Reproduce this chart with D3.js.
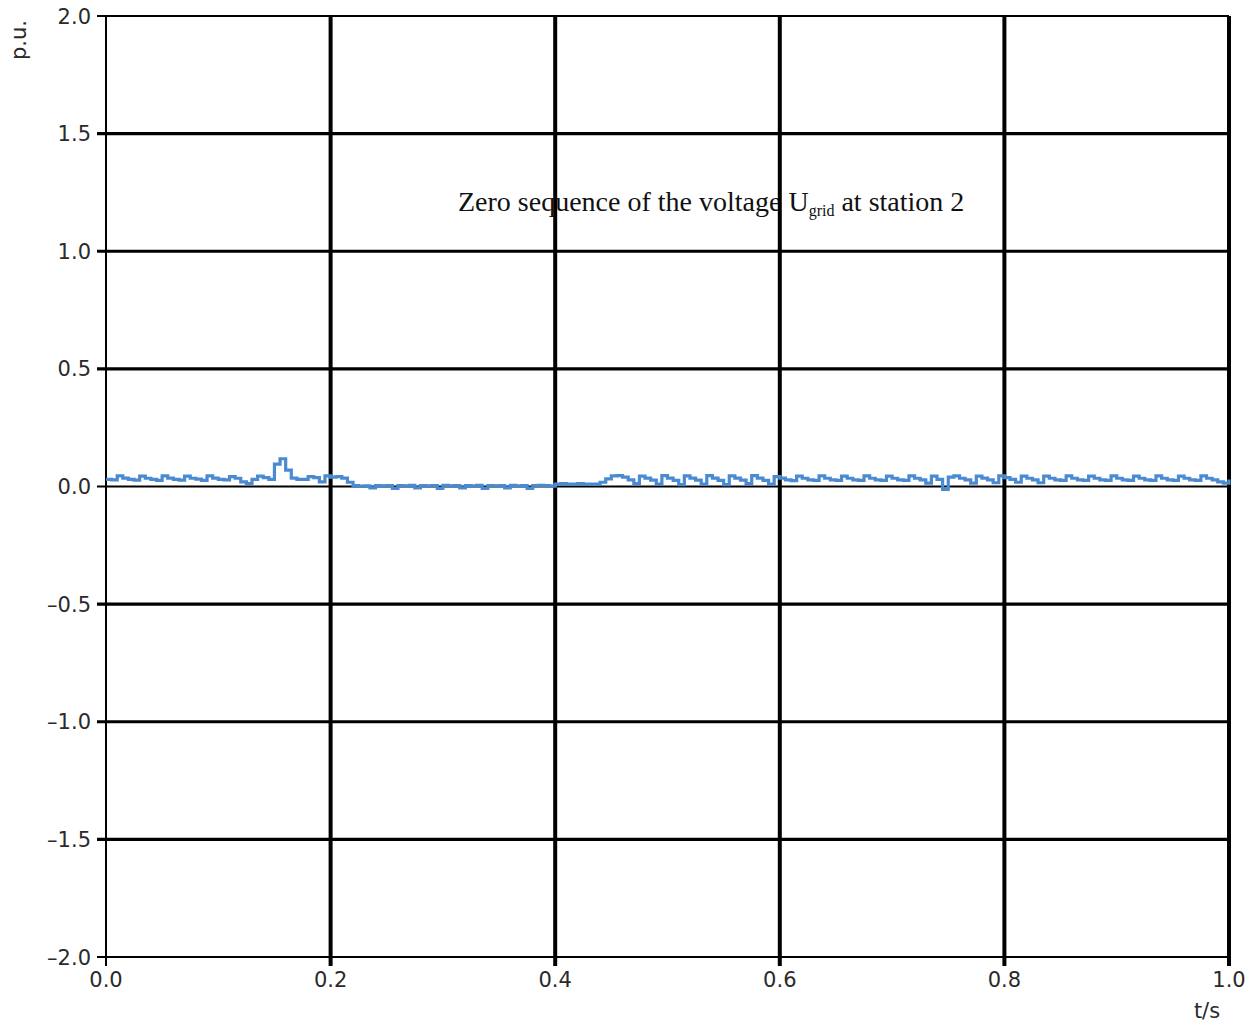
<!DOCTYPE html>
<html><head><meta charset="utf-8">
<script src="https://cdn.jsdelivr.net/npm/d3@7"></script>
<style>body{margin:0;background:#fff}svg{display:block}</style>
</head><body>
<script>
const xTicks = [0.0, 0.2, 0.4, 0.6, 0.8, 1.0];
const yTicks = [2.0, 1.5, 1.0, 0.5, 0.0, -0.5, -1.0, -1.5, -2.0];
const sampleStep = 0.005;
const u0 = [
 0.030, 0.028, 0.045, 0.036,
 0.030, 0.027, 0.044, 0.035,
 0.030, 0.026, 0.045, 0.036,
 0.030, 0.027, 0.044, 0.035,
 0.031, 0.026, 0.045, 0.036,
 0.030, 0.028, 0.042, 0.035,
 0.020, 0.012, 0.030, 0.044,
 0.038, 0.030, 0.095, 0.118,
 0.070, 0.036, 0.030, 0.030,
 0.042, 0.038, 0.020, 0.045,
 0.040, 0.042, 0.036, 0.018,
 0.004, 0.002, 0.003, -0.006,
 0.004, 0.003, 0.004, -0.008,
 0.004, 0.003, 0.005, -0.006,
 0.004, 0.003, 0.004, -0.008,
 0.005, 0.003, 0.004, -0.006,
 0.004, 0.003, 0.005, -0.008,
 0.004, 0.003, 0.004, -0.006,
 0.005, 0.003, 0.004, -0.008,
 0.004, 0.005, 0.004, 0.002,
 0.010, 0.012, 0.010, 0.010,
 0.012, 0.010, 0.010, 0.010,
 0.018, 0.032, 0.045, 0.046,
 0.040, 0.028, 0.012, 0.044,
 0.036, 0.027, 0.010, 0.046,
 0.036, 0.026, 0.008, 0.045,
 0.036, 0.027, 0.010, 0.046,
 0.036, 0.026, 0.008, 0.045,
 0.036, 0.027, 0.012, 0.046,
 0.036, 0.026, 0.010, 0.042,
 0.036, 0.028, 0.025, 0.044,
 0.035, 0.028, 0.026, 0.045,
 0.035, 0.028, 0.026, 0.044,
 0.035, 0.028, 0.026, 0.045,
 0.035, 0.028, 0.026, 0.044,
 0.035, 0.028, 0.026, 0.045,
 0.035, 0.028, 0.014, 0.044,
 0.030, -0.012, 0.040, 0.045,
 0.035, 0.028, 0.014, 0.044,
 0.036, 0.028, 0.016, 0.045,
 0.038, 0.030, 0.018, 0.044,
 0.035, 0.028, 0.016, 0.044,
 0.035, 0.028, 0.026, 0.045,
 0.035, 0.028, 0.026, 0.044,
 0.035, 0.028, 0.026, 0.045,
 0.035, 0.028, 0.026, 0.044,
 0.035, 0.028, 0.026, 0.045,
 0.035, 0.028, 0.026, 0.044,
 0.035, 0.028, 0.026, 0.045,
 0.035, 0.028, 0.020, 0.014,
 0.030
];
const time = u0.map((_, i) => +(i * sampleStep).toFixed(4));

const W = 1255, H = 1024;
const m = {left: 106, right: 1229, top: 16, bottom: 957};
const x = d3.scaleLinear().domain([0, 1]).range([m.left, m.right]);
const y = d3.scaleLinear().domain([-2, 2]).range([m.bottom, m.top]);

const svg = d3.select("body").append("svg").attr("width", W).attr("height", H);
const sans = "'DejaVu Sans', Verdana, sans-serif";

// title (drawn under the grid)
const title = svg.append("text").attr("x", 458).attr("y", 211)
  .attr("font-family", "'Liberation Serif', 'Times New Roman', serif")
  .attr("font-size", 28).attr("fill", "#111");
title.append("tspan").text("Zero sequence of the voltage U");
title.append("tspan").attr("font-size", 16).attr("dy", 5).text("grid");
title.append("tspan").attr("dy", -5).text(" at station 2");

// horizontal grid
svg.append("g").selectAll("line").data(yTicks).join("line")
  .attr("x1", m.left - 9).attr("x2", m.right)
  .attr("y1", d => y(d)).attr("y2", d => y(d))
  .attr("stroke", "#000")
  .attr("stroke-width", d => (d === 0 || d === 2 || d === -2) ? 2 : 3.2);

// vertical grid
svg.append("g").selectAll("line").data(xTicks).join("line")
  .attr("x1", d => x(d)).attr("x2", d => x(d))
  .attr("y1", m.top).attr("y2", m.bottom + 9)
  .attr("stroke", "#000")
  .attr("stroke-width", d => d === 0 ? 2 : 4);

// y labels
svg.append("g").selectAll("text").data(yTicks).join("text")
  .attr("x", 91).attr("y", d => y(d)).attr("dy", "0.36em")
  .attr("text-anchor", "end")
  .attr("font-family", sans)
  .attr("font-size", 21).attr("fill", "#2a2a2a")
  .text(d => d.toFixed(1).replace("-", "\u2013"));

// x labels
svg.append("g").selectAll("text").data(xTicks).join("text")
  .attr("x", d => x(d)).attr("y", 987)
  .attr("text-anchor", "middle")
  .attr("font-family", sans)
  .attr("font-size", 21).attr("fill", "#2a2a2a")
  .text(d => d.toFixed(1));

svg.append("text").attr("x", 1207).attr("y", 1018).attr("text-anchor", "middle")
  .attr("font-family", sans)
  .attr("font-size", 21).attr("fill", "#2a2a2a").text("t/s");

svg.append("text").attr("transform", "translate(26,40) rotate(-90)")
  .attr("text-anchor", "middle")
  .attr("font-family", sans)
  .attr("font-size", 21).attr("fill", "#2a2a2a").text("p.u.");

// signal
const line = d3.line().x((d, i) => x(time[i])).y(d => y(d)).curve(d3.curveStepAfter);
svg.append("path").datum(u0).attr("d", line)
  .attr("fill", "none").attr("stroke", "#4a8ad2").attr("stroke-width", 3.2);
</script>
</body></html>
